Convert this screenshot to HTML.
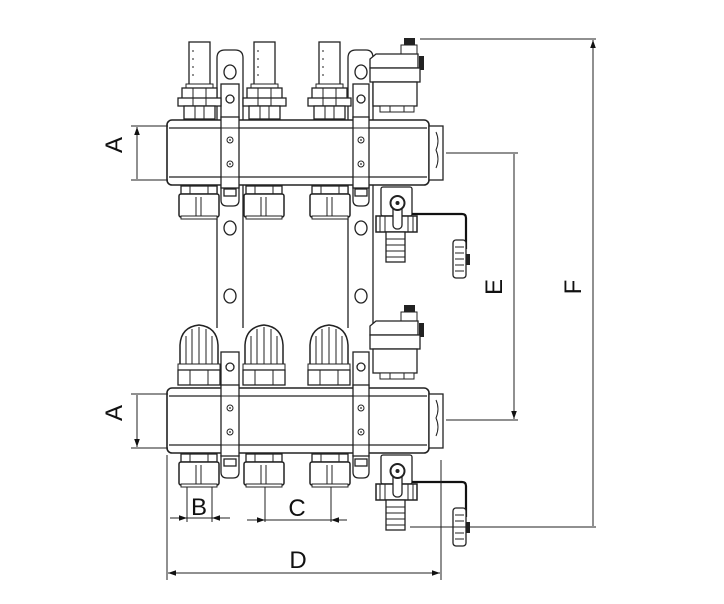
<!DOCTYPE html>
<html><head><meta charset="utf-8"><style>
html,body{margin:0;padding:0;background:#fff;width:724px;height:604px;overflow:hidden}
svg{display:block}
text{font-family:"Liberation Sans",sans-serif;fill:#111}
</style></head><body>
<svg width="724" height="604" viewBox="0 0 724 604" xmlns="http://www.w3.org/2000/svg">
<defs>
<marker id="ar" viewBox="0 0 10 10" refX="10" refY="5" markerWidth="8" markerHeight="10" orient="auto-start-reverse" markerUnits="userSpaceOnUse"><path d="M0,1.5 L10,5 L0,8.5z" fill="#111"/></marker>
<g id="fm">
 <rect x="189" y="42" width="21" height="44" fill="#fff" stroke="#222" stroke-width="1.3"/>
 <path d="M193 50v2M193 58v2M193 66v2M193 74v2" stroke="#222"/>
 <rect x="186" y="84" width="27" height="4" fill="#fff" stroke="#222"/>
 <rect x="182" y="88" width="35" height="11" fill="#fff" stroke="#222" stroke-width="1.3"/>
 <rect x="178" y="98" width="43" height="8" fill="#fff" stroke="#222" stroke-width="1.3"/>
 <rect x="184" y="106" width="31" height="13" fill="#fff" stroke="#222" stroke-width="1.3"/>
 <path d="M193 88v18M206 88v18M195 106v13M204 106v13" stroke="#222"/>
</g>
<g id="knob">
 <path d="M180 366 V345 Q181 327 199 325 Q217 327 218 345 V366 Z" fill="#fff" stroke="#222" stroke-width="1.5"/>
 <path d="M186 336v30M192 329v37M199 327v39M206 329v37M212 336v30" stroke="#222"/>
 <rect x="178" y="364" width="42" height="6" fill="#fff" stroke="#222"/>
 <rect x="178" y="370" width="42" height="15" fill="#fff" stroke="#222" stroke-width="1.3"/>
 <path d="M190 370v15M208 370v15" stroke="#222"/>
</g>
<g id="outlet">
 <rect x="181" y="0" width="36" height="8" fill="#fff" stroke="#222" stroke-width="1.3"/>
 <path d="M190 0v8M208 0v8" stroke="#222"/>
 <rect x="179" y="8" width="40" height="23" rx="2" fill="#fff" stroke="#222" stroke-width="1.5"/>
 <path d="M196 11v19M201 11v19" stroke="#222"/>
 <rect x="181" y="30" width="36" height="3" fill="#fff" stroke="#222"/>
</g>
<g id="vent">
 <rect x="404" y="0" width="11" height="7" fill="#222"/>
 <rect x="401" y="7" width="16" height="9" fill="#fff" stroke="#222"/>
 <path d="M376 16 h42 v14 h-48 v-9z" fill="#fff" stroke="#222" stroke-width="1.3"/>
 <rect x="419" y="18" width="5" height="14" fill="#222"/>
 <rect x="370" y="30" width="50" height="14" fill="#fff" stroke="#222" stroke-width="1.3"/>
 <rect x="373" y="44" width="44" height="24" fill="#fff" stroke="#222" stroke-width="1.3"/>
 <rect x="380" y="68" width="34" height="6" fill="#fff" stroke="#222"/>
 <path d="M390 68v6M404 68v6" stroke="#222"/>
</g>
<g id="drain">
 <rect x="381" y="0" width="31" height="29" rx="2" fill="#fff" stroke="#222" stroke-width="1.3"/>
 <rect x="376" y="29" width="41" height="16" fill="#fff" stroke="#222" stroke-width="1.5"/>
 <path d="M380 29v16M385 29v16M408 29v16M413 29v16" stroke="#222"/>
 <rect x="386" y="45" width="19" height="30" fill="#fff" stroke="#222" stroke-width="1.3"/>
 <path d="M386 52h19M386 58h19M386 64h19M386 70h19" stroke="#222"/>
 <rect x="393" y="10" width="9" height="32" rx="4" fill="#fff" stroke="#222" stroke-width="1.3"/>
 <circle cx="397.5" cy="16" r="7" fill="#fff" stroke="#222" stroke-width="2"/>
 <circle cx="397.5" cy="16" r="2" fill="#222"/>
 <path d="M412 27 H462 Q466 27 466 31 V62" fill="none" stroke="#111" stroke-width="2.2"/>
 <rect x="453" y="53" width="13" height="38" rx="3" fill="#fff" stroke="#222" stroke-width="1.3"/>
 <path d="M455 60h9M455 66h9M455 72h9M455 78h9M455 84h9" stroke="#222"/>
 <rect x="466" y="67" width="4" height="11" fill="#222"/>
</g>
<g id="bar">
 <rect x="167" y="0" width="262" height="65" rx="5" fill="#fff" stroke="#222" stroke-width="1.6"/>
 <path d="M169 8H427M169 57H427" stroke="#222" stroke-width="1.3"/>
 <rect x="429" y="6" width="14" height="54" fill="#fff" stroke="#222" stroke-width="1.3"/>
 <path d="M436 12 q4 9 0 18 q4 9 0 18" fill="none" stroke="#222"/>
 <rect x="221" y="-3" width="18" height="71" fill="#fff" stroke="#222" stroke-width="1.3"/>
 <rect x="353" y="-3" width="16" height="71" fill="#fff" stroke="#222" stroke-width="1.3"/>
 <path d="M221 8h18M221 57h18M353 8h16M353 57h16" stroke="#222"/>
 <circle cx="230" cy="20" r="3" fill="#fff" stroke="#222"/><circle cx="230" cy="20" r=".9" fill="#222"/>
 <circle cx="230" cy="44" r="3" fill="#fff" stroke="#222"/><circle cx="230" cy="44" r=".9" fill="#222"/>
 <circle cx="361" cy="20" r="3" fill="#fff" stroke="#222"/><circle cx="361" cy="20" r=".9" fill="#222"/>
 <circle cx="361" cy="44" r="3" fill="#fff" stroke="#222"/><circle cx="361" cy="44" r=".9" fill="#222"/>
</g>
</defs>

<!-- rails -->
<g fill="none" stroke="#222" stroke-width="1.3">
 <path d="M217 58 v270 M243 58 v270"/>
 <path d="M217 58 q0 -8 8 -8 h10 q8 0 8 8"/>
 <path d="M348 58 v270 M373 58 v270"/>
 <path d="M348 58 q0 -8 8 -8 h10 q7 0 7 8"/>
</g>
<g fill="#fff" stroke="#222" stroke-width="1.3">
 <ellipse cx="230" cy="72" rx="6" ry="7"/><ellipse cx="361" cy="72" rx="6" ry="7"/>
 <ellipse cx="230" cy="228" rx="6" ry="7"/><ellipse cx="361" cy="228" rx="6" ry="7"/>
 <ellipse cx="230" cy="296" rx="6" ry="7"/><ellipse cx="361" cy="296" rx="6" ry="7"/>
 <rect x="221" y="84" width="18" height="34"/><rect x="353" y="84" width="16" height="34"/>
 <rect x="221" y="352" width="18" height="34"/><rect x="353" y="352" width="16" height="34"/>
 <circle cx="230" cy="99" r="4"/><circle cx="361" cy="99" r="4"/>
 <circle cx="230" cy="367" r="4"/><circle cx="361" cy="367" r="4"/>
 <path d="M221 186 v14 q0 6 6 6 h6 q6 0 6 -6 v-14"/>
 <path d="M353 186 v14 q0 6 6 6 h4 q6 0 6 -6 v-14"/>
 <path d="M221 455 v17 q0 6 6 6 h6 q6 0 6 -6 v-17"/>
 <path d="M353 455 v17 q0 6 6 6 h4 q6 0 6 -6 v-17"/>
 <rect x="224" y="189" width="12" height="7"/><rect x="355" y="189" width="12" height="7"/>
 <rect x="224" y="459" width="12" height="7"/><rect x="355" y="459" width="12" height="7"/>
</g>

<!-- top assembly -->
<use href="#fm"/><use href="#fm" x="65"/><use href="#fm" x="130"/>
<use href="#vent" y="38"/>
<use href="#bar" y="120"/>
<use href="#outlet" y="186"/><use href="#outlet" x="65" y="186"/><use href="#outlet" x="131" y="186"/>
<use href="#drain" y="187"/>

<!-- bottom assembly -->
<use href="#knob"/><use href="#knob" x="65"/><use href="#knob" x="130"/>
<use href="#vent" y="305"/>
<use href="#bar" y="388"/>
<use href="#outlet" y="454"/><use href="#outlet" x="65" y="454"/><use href="#outlet" x="131" y="454"/>
<use href="#drain" y="455"/>

<!-- dimensions -->
<g stroke="#222" stroke-width="1" fill="none">
 <path d="M131 126H168M131 180H168M131 394H168M131 448H168"/>
 <path d="M137 127V179M137 395V447" marker-start="url(#ar)" marker-end="url(#ar)"/>
 <path d="M420 39H596M446 153H518M446 420H518M410 527H596"/>
 <path d="M593 40V526M514 154V419" marker-start="url(#ar)" marker-end="url(#ar)"/>
 <path d="M167 455V580M441 460V580M187 487V522M212 487V522M265 487V522M331 487V522"/>
 <path d="M170 518H230M247 520H347"/>
 <path d="M170 518H187" marker-end="url(#ar)"/>
 <path d="M230 518H212" marker-end="url(#ar)"/>
 <path d="M247 520H265" marker-end="url(#ar)"/>
 <path d="M347 520H331" marker-end="url(#ar)"/>
 <path d="M168 573H440" marker-start="url(#ar)" marker-end="url(#ar)"/>
</g>
<g font-size="24">
 <text x="130" y="153" text-anchor="middle" transform="rotate(-90 122 153)">A</text>
 <text x="130" y="421" text-anchor="middle" transform="rotate(-90 122 421)">A</text>
 <text x="199" y="515" text-anchor="middle">B</text>
 <text x="297" y="516" text-anchor="middle">C</text>
 <text x="298" y="568" text-anchor="middle">D</text>
 <text x="502" y="287" text-anchor="middle" transform="rotate(-90 502 287)">E</text>
 <text x="581" y="287" text-anchor="middle" transform="rotate(-90 581 287)">F</text>
</g>
</svg>
</body></html>
